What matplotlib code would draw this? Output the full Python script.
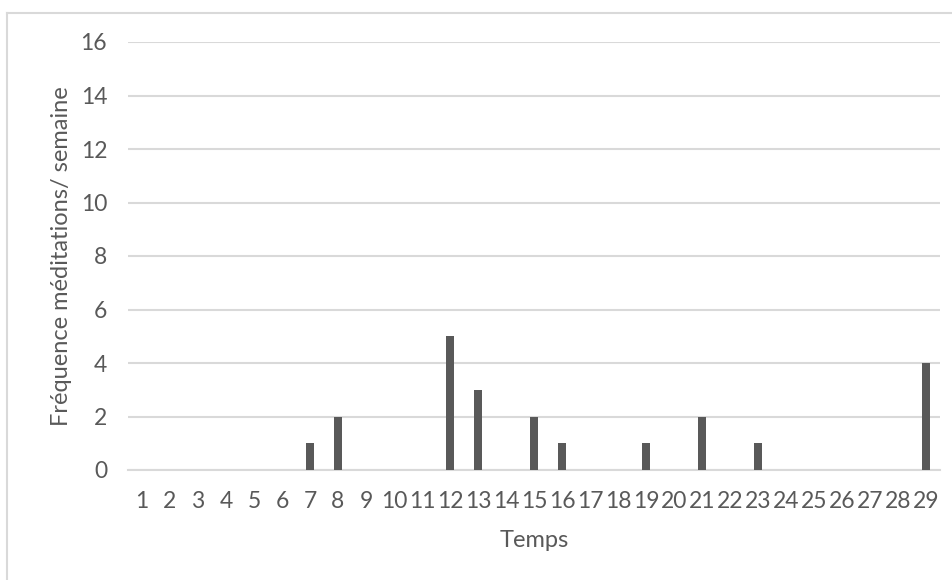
import matplotlib.pyplot as plt
from matplotlib.lines import Line2D

# weekly meditation counts
weeks = list(range(1, 30))
counts = [0, 0, 0, 0, 0, 0, 1, 2, 0, 0, 0, 5, 3, 0, 2, 1, 0, 0, 1, 0, 2, 0, 1, 0, 0, 0, 0, 0, 4]
y_ticks = [0, 2, 4, 6, 8, 10, 12, 14, 16]

text_color = '#595959'
grid_color = '#d9d9d9'
plt.rcParams['font.family'] = ['Lato', 'DejaVu Sans']

fig = plt.figure(figsize=(9.53, 5.8), dpi=100)
ax = fig.add_axes([128 / 953, 110 / 580, 812 / 953, 428 / 580])

ax.bar(weeks, counts, width=0.32, color='#595959', zorder=3)

ax.set_xlim(0.5, 29.5)
ax.set_ylim(0, 16)
ax.set_yticks(y_ticks)
ax.set_xticks(weeks)
ax.set_xticklabels([str(w) for w in weeks])

ax.grid(axis='y', color=grid_color, linewidth=1.5, zorder=0)
for side in ['top', 'right', 'left']:
    ax.spines[side].set_visible(False)
ax.spines['bottom'].set_color(grid_color)
ax.spines['bottom'].set_linewidth(1.5)

ax.tick_params(axis='both', length=0, labelsize=16.5, colors=text_color)
ax.tick_params(axis='y', pad=15)
ax.tick_params(axis='x', pad=15)

ax.set_xlabel('Temps', fontsize=17, color=text_color, labelpad=13)
ax.set_ylabel('Fréquence méditations/ semaine', fontsize=17, color=text_color, labelpad=6)

# chart frame (left and top edges)
fig.add_artist(Line2D([7 / 953, 7 / 953], [0, 1 - 13 / 580], color=grid_color, linewidth=1.5))
fig.add_artist(Line2D([7 / 953, 1], [1 - 13 / 580, 1 - 13 / 580], color=grid_color, linewidth=1.5))

fig.savefig('out.png', dpi=100)
